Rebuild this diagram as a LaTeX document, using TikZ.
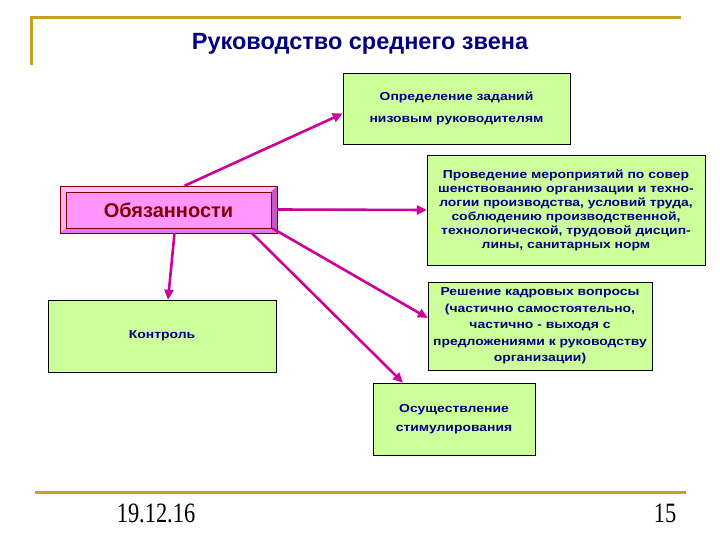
\documentclass[tikz,border=0pt]{standalone}
\usepackage{fontspec}
\setmainfont{Liberation Sans}
\newfontfamily\boxfont[FakeStretch=1.2]{Liberation Sans}
\newfontfamily\datefont[FakeStretch=0.8]{Liberation Serif}
\usetikzlibrary{arrows.meta,positioning,calc}
\definecolor{slidegold}{RGB}{200,160,36}
\definecolor{slidenavy}{RGB}{0,0,128}
\definecolor{boxgreen}{RGB}{204,255,153}
\definecolor{arrmagenta}{RGB}{204,0,153}
\definecolor{dutyface}{RGB}{255,150,255}
\definecolor{dutylight}{RGB}{255,190,255}
\definecolor{dutydark}{RGB}{196,90,196}
\definecolor{dutymid}{RGB}{225,120,225}
\definecolor{dutytext}{RGB}{128,0,0}

\begin{document}
\begin{tikzpicture}[
    x=1pt, y=-1pt,
    task/.style={draw=black, fill=boxgreen, inner sep=2pt, align=center,
        text=slidenavy, font=\boxfont\bfseries\fontsize{11.6}{14}\selectfont},
    arr/.style={-{Triangle[length=10pt,width=9pt]}, line width=2.6pt, arrmagenta},
    goldline/.style={line width=3pt, slidegold},
]
    \useasboundingbox (0,0) rectangle (720,540);

    % frame lines
    \draw[goldline] (31,65) -- (31,18) -- (681,18);
    \draw[goldline] (35,492) -- (686,492);

    % title
    \node[font=\bfseries\fontsize{23.5}{27}\selectfont, text=slidenavy] (title) at (360,44) {Руководство среднего звена};

    % duties (bevelled box)
    \node[draw=dutytext, fill=dutymid, minimum width=217pt, minimum height=47pt, inner sep=0pt] (duty) at (168.5,209.5) {};
    \fill[dutylight] (duty.north west) -- (duty.north east) -- ++(-6,6) -- ($(duty.north west)+(6,6)$) -- cycle;
    \fill[dutylight!85!dutymid] (duty.north west) -- ($(duty.north west)+(6,6)$) -- ($(duty.south west)+(6,-5)$) -- (duty.south west) -- cycle;
    \fill[dutydark] (duty.north east) -- (duty.south east) -- ++(-6,-5) -- ($(duty.north east)+(-6,6)$) -- cycle;
    \draw[dutytext] (duty.north west) rectangle (duty.south east);
    \node[draw=dutytext, fill=dutyface, minimum width=205pt, minimum height=36pt, inner sep=0pt,
        font=\bfseries\fontsize{20}{24}\selectfont, text=dutytext] (face) at (168.5,210) {Обязанности};

    % duty boxes
    \node[task, minimum width=227pt, minimum height=71pt, font=\boxfont\bfseries\fontsize{11.6}{22}\selectfont] (assign) at (456.5,108.5)
        {Определение заданий\\низовым руководителям};
    \node[task, minimum width=278pt, minimum height=110pt] (measures) at (566,210)
        {Проведение мероприятий по совер\\шенствованию организации и техно-\\логии производства, условий труда,\\соблюдению производственной,\\технологической, трудовой дисцип-\\лины, санитарных норм};
    \node[task, minimum width=224pt, minimum height=88pt, font=\boxfont\bfseries\fontsize{11.6}{16.5}\selectfont] (staff) at (540,326)
        {Решение кадровых вопросы\\(частично самостоятельно,\\частично - выходя с\\предложениями к руководству\\организации)};
    \node[task, minimum width=162pt, minimum height=72pt, font=\boxfont\bfseries\fontsize{11.6}{19}\selectfont] (stim) at (454,419)
        {Осуществление\\стимулирования};
    \node[task, minimum width=228pt, minimum height=72pt] (ctrl) at (162,336) {Контроль};

    % arrows
    \draw[arr] ([xshift=16pt]duty.north) -- ([yshift=-5pt]assign.west);
    \draw[arr] (duty.east) -- (measures.west);
    \draw[arr] ([xshift=-5pt,yshift=5pt]duty.south east) -- ([yshift=8pt]staff.west);
    \draw[arr] ([xshift=83.5pt]duty.south) -- ([xshift=-51pt]stim.north);
    \draw[arr] ([xshift=6pt]duty.south) -- ([xshift=6pt]ctrl.north);

    % footer
    \node[font=\datefont\fontsize{28}{30}\selectfont] (date) at (156,513) {19.12.16};
    \node[font=\datefont\fontsize{28}{30}\selectfont] (page) at (665,513) {15};
\end{tikzpicture}
\end{document}
